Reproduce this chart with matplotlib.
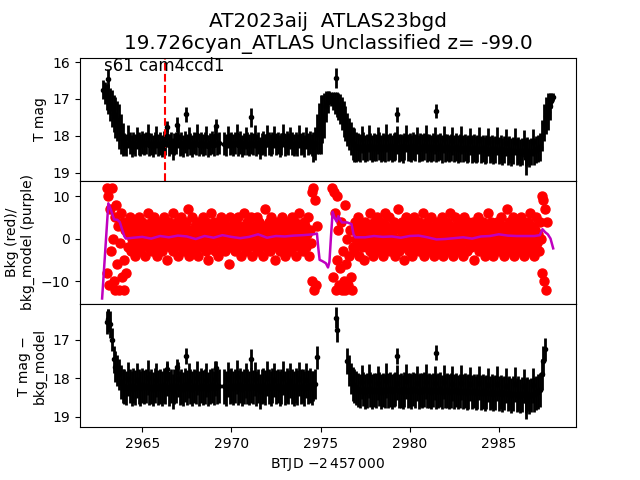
import numpy as np
import matplotlib
matplotlib.use("Agg")
import matplotlib.pyplot as plt


def grid(start, stop, step=0.1):
    return np.round(np.arange(start, stop + step / 2, step), 2)


# ---- panel 1: T mag (0.1 d sampling) ----
t_decline = grid(2962.8, 2963.9)
mag_decline = [16.75, 16.85, 16.95, 17.0, 17.15, 17.25, 17.4, 17.5, 17.6, 17.75, 17.95, 18.1]
err_decline = [0.25, 0.3, 0.35, 0.4, 0.45, 0.5, 0.5, 0.55, 0.55, 0.6, 0.55, 0.45]

t_plat1a = grid(2964.0, 2969.3)
mag_plat1a = [18.22, 18.25, 18.02, 18.20, 18.27, 18.19, 18.24, 18.05, 18.21, 18.26,
              18.18, 18.23, 18.20, 17.98, 18.25, 18.22, 18.28, 18.19, 18.04, 18.24,
              18.21, 18.27, 18.18, 18.23, 18.00, 18.26, 18.20, 18.35, 18.22, 18.19,
              18.03, 18.25, 18.21, 18.28, 18.17, 18.24, 18.06, 18.22, 18.27, 18.20,
              18.23, 17.99, 18.26, 18.19, 18.24, 18.21, 18.04, 18.28, 18.22, 18.18,
              18.25, 18.01, 18.23, 18.20]

t_plat1b = grid(2969.6, 2974.5)
mag_plat1b = [18.21, 18.26, 18.03, 18.22, 18.19, 18.25, 18.20, 17.97, 18.24, 18.18,
              18.27, 18.22, 18.05, 18.21, 18.25, 18.19, 18.23, 18.02, 18.26, 18.20,
              18.34, 18.22, 18.18, 18.24, 18.00, 18.21, 18.26, 18.19, 18.04, 18.23,
              18.20, 18.27, 18.22, 17.99, 18.25, 18.18, 18.23, 18.06, 18.21, 18.26,
              18.19, 18.24, 18.02, 18.22, 18.20, 18.27, 18.05, 18.23, 18.18, 18.25]

t_hump = grid(2974.6, 2977.0)
mag_hump = [18.3, 18.2, 17.95, 17.8, 17.7, 17.55, 17.45, 17.2, 17.08, 16.95,
            17.0, 17.05, 17.1, 17.15, 17.2, 17.27, 17.4, 17.55, 17.67, 17.82,
            17.95, 18.08, 18.2, 18.25, 18.3]
err_hump = [0.4, 0.45, 0.55, 0.7, 0.8, 0.65, 0.6, 0.42, 0.3, 0.17,
            0.2, 0.25, 0.3, 0.33, 0.37, 0.41, 0.45, 0.48, 0.48, 0.45,
            0.43, 0.45, 0.45, 0.45, 0.4]

t_plat2 = grid(2977.1, 2987.3)
mag_plat2 = [18.30, 18.33, 18.10, 18.28, 18.35, 18.31, 18.07, 18.29, 18.34, 18.30,
             18.32, 18.12, 18.28, 18.35, 18.30, 18.33, 18.06, 18.31, 18.29, 18.34,
             18.30, 18.28, 18.11, 18.33, 18.31, 18.36, 18.29, 18.08, 18.32, 18.30,
             18.34, 18.28, 18.31, 18.13, 18.35, 18.30, 18.32, 18.29, 18.09, 18.33,
             18.31, 18.35, 18.30, 18.12, 18.34, 18.32, 18.29, 18.36, 18.10, 18.33,
             18.31, 18.35, 18.32, 18.14, 18.34, 18.30, 18.36, 18.33, 18.11, 18.35,
             18.32, 18.37, 18.34, 18.15, 18.36, 18.33, 18.38, 18.35, 18.12, 18.37,
             18.34, 18.39, 18.36, 18.17, 18.38, 18.35, 18.40, 18.37, 18.14, 18.39,
             18.36, 18.42, 18.38, 18.19, 18.41, 18.38, 18.44, 18.40, 18.16, 18.43,
             18.40, 18.46, 18.42, 18.20, 18.44, 18.41, 18.47, 18.43, 18.18, 18.42,
             18.38, 18.34, 18.30]

t_rise = grid(2987.45, 2988.05)
mag_rise = [18.0, 17.65, 17.45, 17.35, 17.2, 17.05, 16.95]
err_rise = [0.42, 0.5, 0.5, 0.5, 0.37, 0.2, 0.11]

err_plat1 = 0.3
err_plat2 = 0.37

# points sticking out above the band
out_t = [2963.1, 2966.4, 2966.95, 2967.45, 2969.15, 2971.1, 2975.85, 2979.3, 2981.5, 2986.5]
out_mag = [16.45, 17.75, 17.7, 17.42, 17.74, 17.5, 16.43, 17.42, 17.33, 18.6]
out_err = [0.25, 0.15, 0.2, 0.2, 0.2, 0.25, 0.27, 0.2, 0.2, 0.45]

# ---- panel 2: background (red) and background model (purple) ----
t_bkg_a = grid(2963.0, 2974.8, 0.05)
bkg_a = ([12, -8, 10, -11, 7, -3, 12, 0, -10, 5, -12, 8, -6, 3, -12, -1, 6, -9, 4, -12, -5, 2, -8]
         + [3, -2, 1, 5, -3, 0, 4, -1, 2, -4, 1, 3, -2, 5, 0, -3, 2, 4, -1, 1,
            -4, 3, 0, 6, -2, 2, -1, 4, -3, 1, 5, -2, 0, 3, -4, 2, -1, 4, 1, -3,
            2, 5, -1, 0, 3, -5, 1, 4, -2, 2, 0, 6, -3, 1, 3, -1, 4, -4, 2, 0,
            5, -2, 1, 3, -3, 0, 4, -1, 7, -4, 2, 1, -2, 5, 0, -3, 3, 2, -1, 4,
            -4, 1, 3, -2, 0, 5, -1, 2, -3, 4, 1, -5, 3, 0, 6, -2, 2, -1, 4, -3,
            1, 3, -4, 2, 0, 5, -2, 1, 4, -1, -3, 3, 0, 2, -6, 5, 1, -2, 3, -1,
            4, -3, 2, 0, 5, -2, 1, 3, -4, 2, -1, 6, 0, -3, 4, 1, -2, 3, -1, 5,
            -4, 2, 0, 3, -2, 1, 5, -3, 4, -1, 2, 0, -4, 3, 1, 7, -2, 2, -1, 4,
            -3, 1, 5, 0, -2, 3, -5, 2, 4, -1, 1, -3, 3, 0, 5, -2, 2, -4, 1, 4,
            -1, 3, 0, -3, 2, 5, -2, 1, 4, -4, 0, 3, -1, 6, -2, 2, 1, -3, 4, 0,
            3, -2, 1, 5, -4, 2, -1]
         + [11, -10, 12, -12, 9, -11, 3])

t_bkg_b = grid(2975.65, 2987.7, 0.05)
bkg_b = ([12, -9, 11, 6, -12, 10, -5, 2, -11, -7, 4, -12, -3, -10, 8, -12, -6, 0, -11, -4, 2, -9, -12, -2]
         + [2, -3, 4, 0, -1, 5, -4, 1, 3, -2, 2, 0, -5, 4, 1, -2, 3, -1, 6, -3,
            0, 2, -4, 4, 1, -2, 5, -1, 3, -3, 0, 2, 4, -4, 1, 6, -2, 3, -1, 0,
            5, -3, 2, 1, -2, 4, -4, 0, 3, -1, 7, -3, 2, 0, 4, -2, 1, -5, 3, 5,
            -1, 2, -3, 4, 0, 1, -4, 3, 5, -2, 2, -1, 0, 4, -3, 1, 3, -2, 6, -4,
            2, 0, 4, -1, -3, 3, 1, 5, -2, 2, -4, 0, 3, -1, 4, -3, 1, 2, -2, 5,
            -4, 3, 0, 2, -1, 4, -3, 1, 6, -2, 3, 0, -4, 2, 5, -1, 1, -3, 4, 0,
            -2, 3, 1, -4, 5, 0, 2, -3, 4, -1, 1, 3, -2, 0, 4, -5, 2, 1, -1, 3,
            5, -3, 0, 2, -2, 4, 1, -4, 3, -1, 0, 6, -3, 2, 4, -2, 1, -4, 3, 0,
            -1, 4, 2, -3, 1, 5, -2, 0, 3, -4, 2, -1, 7, 1, -3, 4, 0, -2, 2, 5,
            -4, 1, 3, -1, 0, 4, -3, 2, 5, -2, 1, -4, 3, 0, 2, -1, 4, -3, 6, 1,
            -2, 3, 0, -4, 2, 5, -1, 1, -3, 4, 0]
         + [10, -8, 9, -10, 7, -12, 4])

model_t = [2962.75, 2963.1, 2963.24, 2963.42, 2963.61, 2963.74, 2963.99, 2964.08,
           2964.5, 2965.0, 2965.5, 2966.0, 2966.5, 2967.0, 2967.5, 2968.0, 2968.5,
           2969.0, 2969.5, 2970.0, 2970.5, 2971.0, 2971.5, 2972.0, 2972.5, 2973.0,
           2973.5, 2974.0, 2974.6, 2974.8, 2974.87, 2974.95, 2975.1, 2975.3, 2975.42,
           2975.5, 2975.58, 2975.68, 2975.78, 2975.9, 2976.0, 2976.1, 2976.2, 2976.5,
           2976.74, 2976.85, 2976.95, 2977.5, 2978.0, 2978.5, 2979.0, 2979.5, 2980.0,
           2980.5, 2981.0, 2981.5, 2982.0, 2982.5, 2983.0, 2983.5, 2984.0, 2984.5,
           2985.0, 2985.5, 2986.0, 2986.5, 2987.0, 2987.3, 2987.45, 2987.6, 2987.75,
           2987.9, 2988.05]
model_v = [-14.1, 8.3, 6.8, 4.5, 4.4, 3.9, 0.6, 0.0,
           0.2, 0.4, 0.0, 0.6, 0.3, 0.7, 0.5, -0.1, 0.6,
           0.2, 0.8, 0.4, 0.1, 0.4, 1.0, 0.2, 0.6, 0.5,
           0.7, 0.8, 1.0, 1.2, -2.0, -5.0, -5.3, -5.8, -6.8,
           -5.5, 0.0, 6.3, 5.0, 4.0, 5.3, 4.5, 3.8, 3.8,
           3.4, 1.0, 0.3, 0.3, 0.6, 0.4, 0.5, 0.2, 0.6,
           0.7, 0.3, -0.2, -0.1, 0.1, 0.3, 0.0, 0.5, 0.6,
           1.0, 0.7, 0.6, 0.6, 0.6, 0.8, 2.2, 1.5, 1.0,
           0.0, -2.3]

# ---- panel 3: T mag - bkg_model ----
sub_t = [2963.0, 2963.1, 2963.2, 2963.3, 2963.4, 2963.5, 2963.6, 2963.7, 2963.8, 2963.9,
         2974.6, 2974.7, 2974.8, 2975.9, 2976.5, 2976.6, 2976.7, 2976.8, 2976.9, 2977.0,
         2987.4, 2987.5, 2987.6]
sub_mag = [16.55, 16.5, 16.6, 17.0, 17.5, 17.7, 17.8, 17.9, 18.1, 18.2,
           18.2, 18.15, 17.45, 16.75, 17.55, 17.8, 18.0, 18.15, 18.2, 18.25,
           17.9, 17.55, 17.25]
sub_err = [0.3, 0.3, 0.35, 0.3, 0.35, 0.4, 0.4, 0.4, 0.45, 0.45,
           0.4, 0.4, 0.3, 0.3, 0.35, 0.4, 0.4, 0.45, 0.45, 0.45,
           0.4, 0.4, 0.3]
err_sub_plat = 0.45

title = "AT2023aij  ATLAS23bgd\n19.726cyan_ATLAS Unclassified z= -99.0"
sector_label = "s61 cam4ccd1"
t_marker = 2966.3


def join(*parts):
    return np.concatenate([np.asarray(p, dtype=float) for p in parts])


t1 = join(t_decline, t_plat1a, t_plat1b, t_hump, t_plat2, t_rise, out_t)
m1 = join(mag_decline, mag_plat1a, mag_plat1b, mag_hump, mag_plat2, mag_rise, out_mag)
e1 = join(err_decline, np.full(len(t_plat1a) + len(t_plat1b), err_plat1), err_hump,
          np.full(len(t_plat2), err_plat2), err_rise, out_err)

t3 = join(sub_t, t_plat1a, t_plat1b, t_plat2, out_t)
m3 = join(sub_mag, mag_plat1a, mag_plat1b, mag_plat2, out_mag)
e3 = join(sub_err, np.full(len(t_plat1a) + len(t_plat1b) + len(t_plat2), err_sub_plat), out_err)

fig, axes = plt.subplots(3, 1, sharex=True, figsize=(6.4, 4.8), dpi=100)
fig.subplots_adjust(hspace=0)
ax1, ax2, ax3 = axes

ax1.errorbar(t1, m1, yerr=e1, fmt='o', color='k', ms=3, elinewidth=2)
ax1.axvline(t_marker, color='r', ls='--', lw=1.5)
ax1.text(2962.86, 16.24, sector_label, fontsize=12)
ax1.set_ylim(19.22, 15.88)
ax1.set_yticks([16, 17, 18, 19])
ax1.set_ylabel("T mag")
ax1.set_title(title, fontsize='x-large')

ax2.plot(t_bkg_a, bkg_a, 'o', color='r', ms=6.5)
ax2.plot(t_bkg_b, bkg_b, 'o', color='r', ms=6.5)
ax2.plot(model_t, model_v, '-', color='m', lw=1.8)
ax2.set_ylim(-15.4, 13.6)
ax2.set_yticks([-10, 0, 10])
ax2.set_ylabel("Bkg (red)/\nbkg_model (purple)")

ax3.errorbar(t3, m3, yerr=e3, fmt='o', color='k', ms=3, elinewidth=2)
ax3.set_ylim(19.27, 16.07)
ax3.set_yticks([17, 18, 19])
ax3.set_ylabel("T mag \u2212\nbkg_model")
ax3.set_xlim(2961.51, 2989.33)
ax3.set_xticks([2965, 2970, 2975, 2980, 2985])
ax3.set_xlabel(r"BTJD $-2\,457\,000$")

fig.savefig("out.png", dpi=100)
